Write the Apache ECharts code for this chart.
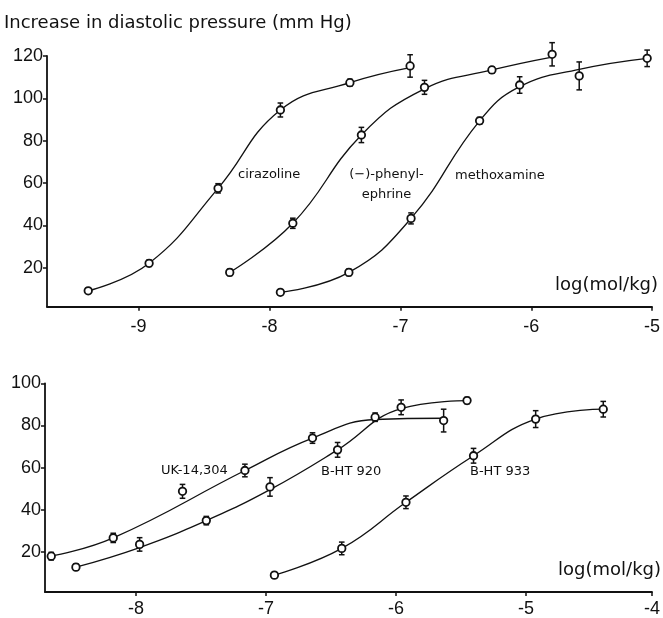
<!DOCTYPE html>
<html><head><meta charset="utf-8">
<script src="https://cdn.jsdelivr.net/npm/echarts@6/dist/echarts.min.js"></script>
<style>html,body{margin:0;padding:0;background:#fff}#c{width:663px;height:618px}</style>
</head><body><div id="c"></div>
<script>
// ---- tick labels ----
const topXTicks = [-9, -8, -7, -6, -5];
const topYTicks = [20, 40, 60, 80, 100, 120];
const botXTicks = [-8, -7, -6, -5, -4];
const botYTicks = [20, 40, 60, 80, 100];

// ---- top panel: cirazoline ----
const cirX   = [-9.385, -8.92, -8.393, -7.917, -7.386, -6.926];
const cirY   = [9.1, 22.1, 57.5, 94.5, 107.4, 115.3];
const cirErr = [1.2, 1.5, 2.2, 3.3, 1.6, 5.3];
const cirFitY = [9.1, 22.1, 57.5, 94.5, 107.4, 114.5];

// ---- top panel: (-)-phenylephrine ----
const phenX   = [-8.304, -7.822, -7.298, -6.816, -6.301, -5.841];
const phenY   = [17.8, 41.0, 82.7, 105.2, 113.4, 120.8];
const phenErr = [1.5, 2.4, 3.6, 3.3, 1.5, 5.5];
const phenFitY = [17.8, 41.0, 82.7, 104.5, 113.4, 119.5];

// ---- top panel: methoxamine ----
const methX   = [-7.917, -7.394, -6.919, -6.395, -6.089, -5.634, -5.115];
const methY   = [8.4, 17.8, 43.3, 89.4, 106.3, 110.6, 118.9];
const methErr = [1.2, 1.5, 2.6, 1.6, 3.9, 6.6, 3.9];
const methFitY = [8.4, 17.8, 43.3, 89.4, 105.5, 113.7, 118.9];

// ---- bottom panel: UK-14,304 ----
const ukX   = [-8.652, -8.175, -7.642, -7.162, -6.642, -6.160, -5.633];
const ukY   = [17.9, 26.6, 48.7, 58.6, 74.0, 83.9, 82.3];
const ukErr = [1.8, 2.2, 3.3, 3.0, 2.5, 2.0, 5.4];
const ukFitX = [-8.652, -8.175, -7.162, -6.642, -6.160, -5.633];
const ukFitY = [17.9, 26.6, 58.6, 74.0, 82.8, 83.4];

// ---- bottom panel: B-HT 920 ----
const b920X   = [-8.462, -7.972, -7.459, -6.969, -6.449, -5.960, -5.453];
const b920Y   = [12.7, 23.5, 34.8, 50.8, 68.4, 88.6, 91.8];
const b920Err = [1.5, 3.2, 2.0, 4.4, 3.5, 3.5, 1.5];
const b920FitY = [12.7, 22.0, 34.8, 49.5, 68.4, 88.0, 91.8];

// ---- bottom panel: B-HT 933 ----
const b933X   = [-6.935, -6.417, -5.923, -5.403, -4.925, -4.405];
const b933Y   = [8.9, 21.6, 43.5, 65.6, 83.0, 87.7];
const b933Err = [1.2, 3.0, 3.0, 3.5, 4.0, 3.7];

const INK = '#111';
const TOP_XMIN = -9.70, TOP_XMAX = -5.078;
const BOT_XMIN = -8.70, BOT_XMAX = -4.03;

function zip(xs, ys) { return xs.map((x, i) => [x, ys[i]]); }
function nearest(ticks, v) {
  let best = ticks[0];
  ticks.forEach(t => { if (Math.abs(t - v) < Math.abs(best - v)) best = t; });
  return best;
}
function curve(idx, xs, ys) {
  return { type: 'line', xAxisIndex: idx, yAxisIndex: idx, data: zip(xs, ys),
    symbol: 'none', smooth: 0.45, clip: false, z: 2, silent: true, animation: false,
    lineStyle: { color: INK, width: 1.3 } };
}
function marks(idx, xs, ys) {
  return { type: 'scatter', xAxisIndex: idx, yAxisIndex: idx, data: zip(xs, ys),
    symbol: 'circle', symbolSize: 7.5, clip: false, z: 4, silent: true, animation: false,
    itemStyle: { color: '#fff', borderColor: INK, borderWidth: 1.8, opacity: 1 } };
}
function errs(idx, xs, ys, es) {
  return { type: 'custom', xAxisIndex: idx, yAxisIndex: idx, z: 3, clip: false, silent: true, animation: false,
    data: xs.map((x, i) => [x, ys[i] - es[i], ys[i] + es[i]]),
    encode: { x: 0, y: [1, 2] },
    renderItem(params, api) {
      const lo = api.coord([api.value(0), api.value(1)]);
      const hi = api.coord([api.value(0), api.value(2)]);
      const w = 2.8;
      const st = { stroke: INK, lineWidth: 1.5 };
      return { type: 'group', children: [
        { type: 'line', shape: { x1: lo[0], y1: lo[1], x2: hi[0], y2: hi[1] }, style: st },
        { type: 'line', shape: { x1: lo[0] - w, y1: lo[1], x2: lo[0] + w, y2: lo[1] }, style: st },
        { type: 'line', shape: { x1: hi[0] - w, y1: hi[1], x2: hi[0] + w, y2: hi[1] }, style: st }
      ] };
    } };
}
function xAxis(idx, min, max, ticks, margin) {
  const pos = ticks.map(v => Math.min(Math.max(v, min), max));
  return { type: 'value', gridIndex: idx, min: min, max: max, scale: true,
    axisLine: { show: true, onZero: false, lineStyle: { color: INK, width: 1.8 } },
    axisTick: { show: true, inside: false, length: 4, customValues: pos, lineStyle: { color: INK, width: 1.5 } },
    axisLabel: { show: true, customValues: pos, margin: margin, color: INK,
      fontFamily: 'Liberation Sans', fontSize: 18,
      formatter: v => String(nearest(ticks, v)) },
    splitLine: { show: false } };
}
function yAxis(idx, min, max, ticks) {
  return { type: 'value', gridIndex: idx, min: min, max: max, scale: true,
    axisLine: { show: true, onZero: false, lineStyle: { color: INK, width: 1.8 } },
    axisTick: { show: true, inside: false, length: 4, customValues: ticks, lineStyle: { color: INK, width: 1.5 } },
    axisLabel: { show: true, customValues: ticks, margin: 4, color: INK,
      fontFamily: 'Liberation Sans', fontSize: 18 },
    splitLine: { show: false } };
}
function txt(text, x, y, size, align) {
  return { type: 'text', x: x, y: y, silent: true,
    style: { text: text, fill: INK, font: size + 'px "DejaVu Sans"',
      align: align || 'left', verticalAlign: 'middle', textAlign: align || 'left', textVerticalAlign: 'middle' } };
}

const chart = echarts.init(document.getElementById('c'), null, { renderer: 'canvas' });
chart.setOption({
  backgroundColor: '#fff',
  animation: false,
  grid: [
    { left: 47, top: 56, width: 609.7, height: 250.7 },
    { left: 45, top: 383.3, width: 613.3, height: 209.4 }
  ],
  xAxis: [ xAxis(0, TOP_XMIN, TOP_XMAX, topXTicks, 11), xAxis(1, BOT_XMIN, BOT_XMAX, botXTicks, 8) ],
  yAxis: [ yAxis(0, 1.6, 120, topYTicks), yAxis(1, 0.9, 100, botYTicks) ],
  graphic: [
    txt('Increase in diastolic pressure (mm Hg)', 4, 23, 18),
    txt('log(mol/kg)', 658, 285.5, 18, 'right'),
    txt('log(mol/kg)', 661, 570.5, 18, 'right'),
    txt('cirazoline', 238, 175, 13),
    txt('(\u2212)-phenyl-', 386.5, 175, 13, 'center'),
    txt('ephrine', 386.5, 195, 13, 'center'),
    txt('methoxamine', 455, 176, 13),
    txt('UK-14,304', 161, 471, 13),
    txt('B-HT 920', 321, 471.7, 13),
    txt('B-HT 933', 470, 471.7, 13)
  ],
  series: [
    curve(0, cirX, cirFitY), errs(0, cirX, cirY, cirErr), marks(0, cirX, cirY),
    curve(0, phenX, phenFitY), errs(0, phenX, phenY, phenErr), marks(0, phenX, phenY),
    curve(0, methX, methFitY), errs(0, methX, methY, methErr), marks(0, methX, methY),
    curve(1, ukFitX, ukFitY), errs(1, ukX, ukY, ukErr), marks(1, ukX, ukY),
    curve(1, b920X, b920FitY), errs(1, b920X, b920Y, b920Err), marks(1, b920X, b920Y),
    curve(1, b933X, b933Y), errs(1, b933X, b933Y, b933Err), marks(1, b933X, b933Y)
  ]
});
</script>
</body></html>
